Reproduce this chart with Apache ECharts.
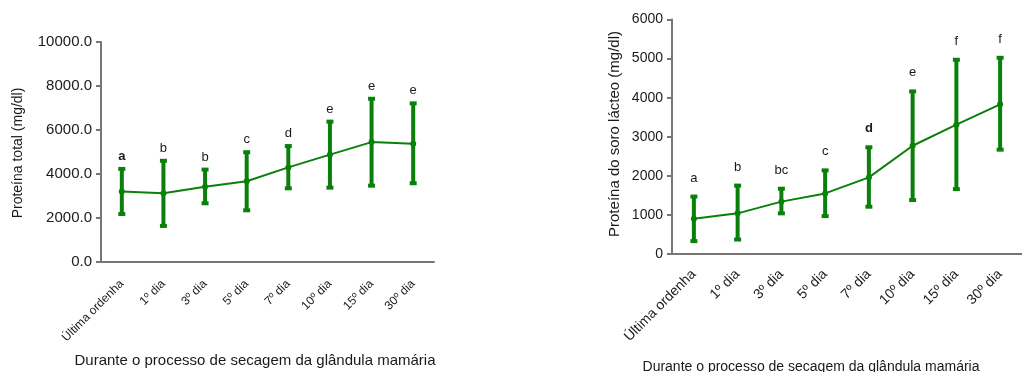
<!DOCTYPE html>
<html>
<head>
<meta charset="utf-8">
<script src="https://cdn.jsdelivr.net/npm/echarts@6/dist/echarts.min.js"></script>
<style>
  html, body { margin: 0; padding: 0; background: #fff; }
  #chart { width: 1022px; height: 372px; }
</style>
</head>
<body>
<div id="chart"></div>
<script>
// Stages of the mammary gland drying-off period
const categories = ['Última ordenha', '1º dia', '3º dia', '5º dia', '7º dia', '10º dia', '15º dia', '30º dia'];

// Total protein (mg/dl): mean, upper and lower error limits, significance letters
const totalMean  = [3200, 3120, 3420, 3670, 4300, 4880, 5450, 5380];
const totalUpper = [4230, 4600, 4200, 4990, 5270, 6380, 7420, 7210];
const totalLower = [2180, 1640, 2670, 2350, 3350, 3380, 3470, 3580];
const totalLetters = ['a', 'b', 'b', 'c', 'd', 'e', 'e', 'e'];

// Whey protein (mg/dl): mean, upper and lower error limits, significance letters
const wheyMean  = [900, 1040, 1340, 1550, 1960, 2770, 3310, 3830];
const wheyUpper = [1470, 1750, 1670, 2140, 2730, 4160, 4970, 5020];
const wheyLower = [330, 370, 1040, 970, 1210, 1380, 1660, 2670];
const wheyLetters = ['a', 'b', 'bc', 'c', 'd', 'e', 'f', 'f'];

// Axis tick values
const totalTicks = [0, 2000, 4000, 6000, 8000, 10000];
const wheyTicks = [0, 1000, 2000, 3000, 4000, 5000, 6000];

const GREEN = '#0a800a';
const AXIS = '#767676';
const TEXT = '#1a1a1a';
const FONT = 'Liberation Sans, Arial, sans-serif';

// Vertical error bar with end caps and the significance letter above it
function errorBars(letters, letterGap, boldIndex) {
  return function (params, api) {
    const i = params.dataIndex;
    const x = api.value(0);
    const hi = api.coord([x, api.value(2)]);
    const lo = api.coord([x, api.value(1)]);
    const capW = 7, capH = 4;
    return {
      type: 'group',
      children: [
        { type: 'line', shape: { x1: hi[0], y1: hi[1], x2: lo[0], y2: lo[1] },
          style: { stroke: GREEN, lineWidth: 4 } },
        { type: 'rect', shape: { x: hi[0] - capW / 2, y: hi[1] - capH / 2, width: capW, height: capH },
          style: { fill: GREEN } },
        { type: 'rect', shape: { x: lo[0] - capW / 2, y: lo[1] - capH / 2, width: capW, height: capH },
          style: { fill: GREEN } },
        { type: 'text', x: hi[0], y: hi[1] - letterGap,
          style: { text: letters[i], align: 'center', verticalAlign: 'bottom',
                   fontSize: 13, fontFamily: FONT, fill: TEXT,
                   fontWeight: i === boldIndex ? 'bold' : 'normal' } }
      ]
    };
  };
}

function barData(upper, lower) {
  return categories.map((c, i) => [i, lower[i], upper[i]]);
}

function xAxisFor(gridIndex, fontSize, margin) {
  return {
    type: 'category', gridIndex, data: categories, boundaryGap: true,
    axisLine: { lineStyle: { color: AXIS, width: 2 } },
    axisTick: { alignWithLabel: true, length: 6, lineStyle: { color: AXIS, width: 2 } },
    axisLabel: { rotate: 45, margin, fontSize, fontFamily: FONT, color: TEXT, interval: 0 },
    splitLine: { show: false }
  };
}

function yAxisFor(gridIndex, ticks, fontSize, digits) {
  return {
    type: 'value', gridIndex, min: ticks[0], max: ticks[ticks.length - 1],
    interval: ticks[1] - ticks[0],
    axisLine: { show: true, lineStyle: { color: AXIS, width: 2 } },
    axisTick: { show: true, length: 5, lineStyle: { color: AXIS, width: 2 } },
    axisLabel: { margin: 9, fontSize, fontFamily: FONT, color: TEXT,
                 formatter: v => v.toFixed(digits) },
    splitLine: { show: false }
  };
}

const chart = echarts.init(document.getElementById('chart'), null, { renderer: 'canvas' });

chart.setOption({
  backgroundColor: '#fff',
  animation: false,
  grid: [
    { left: 101, top: 42, width: 333, height: 220 },
    { left: 672, top: 19.5, width: 356, height: 234.5 }
  ],
  xAxis: [xAxisFor(0, 12, 20), xAxisFor(1, 14, 18)],
  yAxis: [yAxisFor(0, totalTicks, 15, 1), yAxisFor(1, wheyTicks, 14, 0)],
  graphic: [
    { type: 'text', x: 18, y: 153, rotation: Math.PI / 2,
      style: { text: 'Proteína total (mg/dl)', align: 'center', verticalAlign: 'middle',
               fontSize: 14, fontFamily: FONT, fill: TEXT } },
    { type: 'text', x: 255, y: 361,
      style: { text: 'Durante o processo de secagem da glândula mamária', align: 'center',
               verticalAlign: 'middle', fontSize: 15, fontFamily: FONT, fill: TEXT } },
    { type: 'text', x: 615, y: 134, rotation: Math.PI / 2,
      style: { text: 'Proteína do soro lácteo (mg/dl)', align: 'center', verticalAlign: 'middle',
               fontSize: 15, fontFamily: FONT, fill: TEXT } },
    { type: 'text', x: 811, y: 367,
      style: { text: 'Durante o processo de secagem da glândula mamária', align: 'center',
               verticalAlign: 'middle', fontSize: 14, fontFamily: FONT, fill: TEXT } }
  ],
  series: [
    { type: 'line', xAxisIndex: 0, yAxisIndex: 0, data: totalMean,
      symbol: 'circle', symbolSize: 6, lineStyle: { color: GREEN, width: 2 },
      itemStyle: { color: GREEN }, z: 3 },
    { type: 'custom', xAxisIndex: 0, yAxisIndex: 0, data: barData(totalUpper, totalLower),
      renderItem: errorBars(totalLetters, 6, 0), z: 2 },
    { type: 'line', xAxisIndex: 1, yAxisIndex: 1, data: wheyMean,
      symbol: 'circle', symbolSize: 6, lineStyle: { color: GREEN, width: 2 },
      itemStyle: { color: GREEN }, z: 3 },
    { type: 'custom', xAxisIndex: 1, yAxisIndex: 1, data: barData(wheyUpper, wheyLower),
      renderItem: errorBars(wheyLetters, 12, 4), z: 2 }
  ]
});
</script>
</body>
</html>
